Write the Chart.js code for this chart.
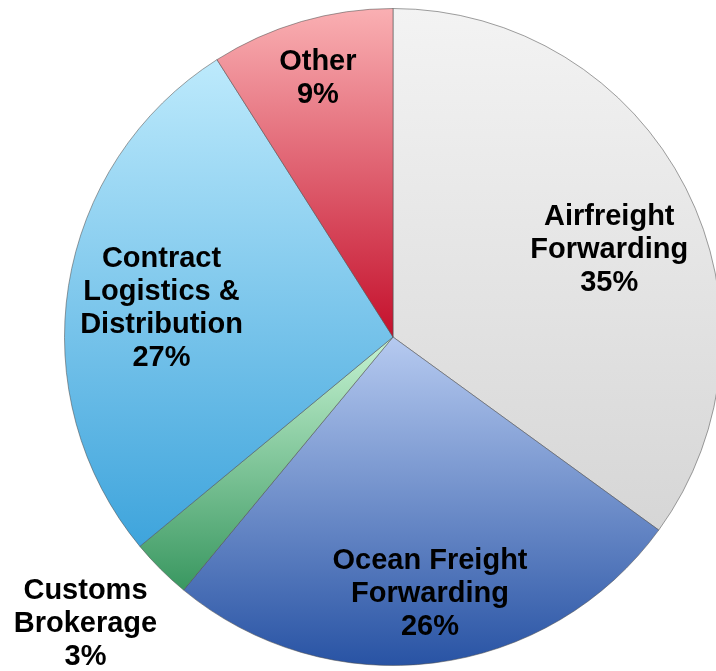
<!DOCTYPE html>
<html>
<head>
<meta charset="utf-8">
<script src="https://cdn.jsdelivr.net/npm/chart.js@4"></script>
<style>
  html, body { margin: 0; padding: 0; background: #ffffff; overflow: hidden; }
  #wrap { position: relative; width: 730px; height: 671px; }
</style>
</head>
<body>
<div id="wrap"><canvas id="pieChart"></canvas></div>
<script>
// data
const categories = ['Airfreight Forwarding', 'Ocean Freight Forwarding', 'Customs Brokerage', 'Contract Logistics & Distribution', 'Other'];
const labelLines = [['Airfreight', 'Forwarding'], ['Ocean Freight', 'Forwarding'], ['Customs', 'Brokerage'], ['Contract', 'Logistics &', 'Distribution'], ['Other']];
const shares = [35, 26, 3, 27, 9];

// styles
const topColors = ['#f3f3f3', '#b6caf0', '#c6f3d2', '#bdeafc', '#fab0b3'];
const bottomColors = ['#d6d6d6', '#2853a4', '#399760', '#3ea4dc', '#c4102c'];
const labelRadius = [0.71, 0.79, 1.28, 0.71, 0.82];   // fraction of outer radius
const labelAngleShift = [5, -1, 2, -2, 0];           // degrees

const total = shares.reduce((a, b) => a + b, 0);

// vertical gradient spanning each slice's own height
function sliceGradient(context) {
    const chart = context.chart;
    const area = chart.chartArea;
    const i = context.dataIndex;
    if (!area) return topColors[i];
    const cx = (area.left + area.right) / 2;
    const cy = (area.top + area.bottom) / 2;
    const r = Math.min(area.right - area.left, area.bottom - area.top) / 2;
    let before = 0;
    for (let k = 0; k < i; k++) before += shares[k];
    const a0 = -Math.PI / 2 + 2 * Math.PI * before / total;
    const a1 = a0 + 2 * Math.PI * shares[i] / total;
    let minY = cy, maxY = cy;
    for (let s = 0; s <= 40; s++) {
        const a = a0 + (a1 - a0) * s / 40;
        const y = cy + r * Math.sin(a);
        minY = Math.min(minY, y);
        maxY = Math.max(maxY, y);
    }
    const g = chart.ctx.createLinearGradient(0, minY, 0, maxY);
    g.addColorStop(0, topColors[i]);
    g.addColorStop(1, bottomColors[i]);
    return g;
}

// slice labels
const sliceLabels = {
    id: 'sliceLabels',
    afterDatasetsDraw(chart) {
        const ctx = chart.ctx;
        const meta = chart.getDatasetMeta(0);
        ctx.save();
        ctx.font = 'bold 29px "Liberation Sans", Arial, sans-serif';
        ctx.fillStyle = '#000000';
        ctx.textAlign = 'center';
        ctx.textBaseline = 'middle';
        meta.data.forEach((arc, i) => {
            const p = arc.getProps(['x', 'y', 'startAngle', 'endAngle', 'outerRadius'], true);
            const mid = (p.startAngle + p.endAngle) / 2 + labelAngleShift[i] * Math.PI / 180;
            const rr = p.outerRadius * labelRadius[i];
            const x = p.x + rr * Math.cos(mid);
            const y = p.y + rr * Math.sin(mid);
            const lines = labelLines[i].concat([shares[i] + '%']);
            const lh = 33;
            lines.forEach((t, j) => {
                ctx.fillText(t, x, y + (j - (lines.length - 1) / 2) * lh);
            });
        });
        ctx.restore();
    }
};

new Chart(document.getElementById('pieChart'), {
    type: 'pie',
    data: {
        labels: categories,
        datasets: [{
            data: shares,
            backgroundColor: sliceGradient,
            borderColor: 'rgba(80,80,80,0.55)',
            borderWidth: 1
        }]
    },
    options: {
        responsive: true,
        maintainAspectRatio: false,
        animation: false,
        layout: { padding: { left: 64, right: 8, top: 8, bottom: 5 } },
        plugins: {
            legend: { display: false },
            tooltip: { enabled: false }
        }
    },
    plugins: [sliceLabels]
});
</script>
</body>
</html>
